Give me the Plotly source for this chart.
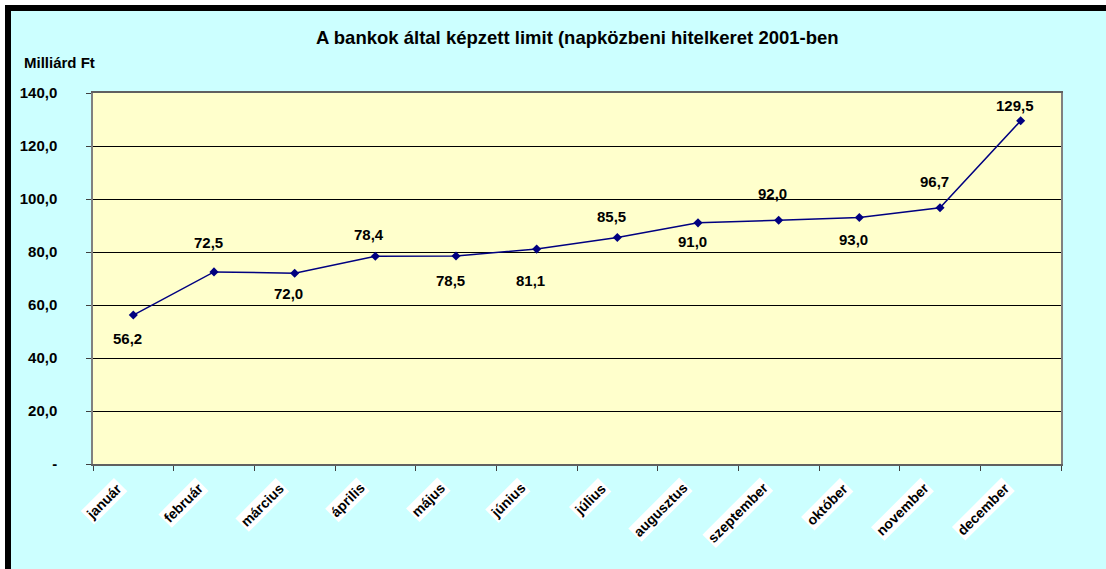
import plotly.graph_objects as go

# ---- data ----
months = ["január", "február", "március", "április", "május", "június",
          "július", "augusztus", "szeptember", "október", "november", "december"]
values = [56.2, 72.5, 72.0, 78.4, 78.5, 81.1, 85.5, 91.0, 92.0, 93.0, 96.7, 129.5]
y_tickvals = [0, 20, 40, 60, 80, 100, 120, 140]
y_ticktext = ["-", "20,0", "40,0", "60,0", "80,0", "100,0", "120,0", "140,0"]
title_text = "A bankok által képzett limit (napközbeni hitelkeret 2001-ben"
y_unit = "Milliárd Ft"

# ---- label placement (style) ----
label_shift = [-23, 29, -20, 22, -25, -31, 21, -19, 27, -22, 26, 15]

W, H = 1106, 569
ML, MR, MT, MB = 93, 45, 93, 105
PW, PH = W - ML - MR, H - MT - MB
FONT = "Liberation Sans, Arial, sans-serif"


def xp(px):
    return (px - ML) / PW


def yp(py):
    return (H - MB - py) / PH


fig = go.Figure()
fig.add_trace(go.Scatter(
    x=months, y=values, mode="lines+markers",
    line=dict(color="#000080", width=1.5),
    marker=dict(symbol="diamond", size=7, color="#000080"),
    hoverinfo="x+y", showlegend=False,
))

annotations = []
for m, v, s in zip(months, values, label_shift):
    annotations.append(dict(
        x=m, y=v, xref="x", yref="y", text=f"{v:.1f}".replace(".", ","),
        showarrow=False, yshift=s, xshift=-6,
        font=dict(family=FONT, size=15, color="black", weight="bold"),
    ))
for m in months:
    annotations.append(dict(
        x=m, y=0, xref="x", yref="paper", text=m, textangle=-45,
        xanchor="right", yanchor="top", xshift=-5, yshift=-13,
        showarrow=False, bgcolor="white", borderpad=1,
        font=dict(family=FONT, size=14, color="black", weight="bold"),
    ))
annotations.append(dict(
    x=xp(22), y=yp(63), xref="paper", yref="paper", text=y_unit,
    xanchor="left", yanchor="middle", showarrow=False,
    font=dict(family=FONT, size=15, color="black", weight="bold"),
))
annotations.append(dict(
    x=xp(577), y=yp(38), xref="paper", yref="paper", text=title_text,
    xanchor="center", yanchor="middle", showarrow=False,
    font=dict(family=FONT, size=18.5, color="black", weight="bold"),
))

shapes = [
    dict(type="rect", xref="paper", yref="paper", x0=xp(0), x1=xp(W), y0=yp(0), y1=yp(5),
         fillcolor="white", line=dict(width=0), layer="above"),
    dict(type="rect", xref="paper", yref="paper", x0=xp(0), x1=xp(5), y0=yp(0), y1=yp(H),
         fillcolor="white", line=dict(width=0), layer="above"),
    dict(type="rect", xref="paper", yref="paper", x0=xp(5), x1=xp(W), y0=yp(5), y1=yp(11),
         fillcolor="black", line=dict(width=0), layer="above"),
    dict(type="rect", xref="paper", yref="paper", x0=xp(5), x1=xp(11), y0=yp(5), y1=yp(H),
         fillcolor="black", line=dict(width=0), layer="above"),
]

fig.update_layout(
    width=W, height=H, autosize=False,
    margin=dict(l=ML, r=MR, t=MT, b=MB, pad=0),
    paper_bgcolor="#CCFFFF", plot_bgcolor="#FFFFCC",
    annotations=annotations, shapes=shapes,
    font=dict(family=FONT, color="black"),
)
fig.update_xaxes(
    type="category", categoryorder="array", categoryarray=months,
    range=[-0.5, len(months) - 0.5],
    showticklabels=False, tickson="boundaries", ticks="outside", ticklen=5,
    tickcolor="#404040", showgrid=False, showline=True, linecolor="#606060",
    linewidth=1.5, mirror=True, zeroline=False,
)
fig.update_yaxes(
    range=[0, 140], tickvals=y_tickvals, ticktext=y_ticktext,
    ticks="outside", ticklen=5, tickcolor="#404040", ticklabelstandoff=26,
    tickfont=dict(family=FONT, size=15, color="black", weight="bold"),
    showgrid=True, gridcolor="black", gridwidth=1,
    showline=True, linecolor="#808080", linewidth=1.5, mirror=True, zeroline=False,
)

fig.write_html(
    "out.html",
    config={"displayModeBar": False},
    post_script="document.body.style.margin='0';document.body.style.overflow='hidden';",
)
